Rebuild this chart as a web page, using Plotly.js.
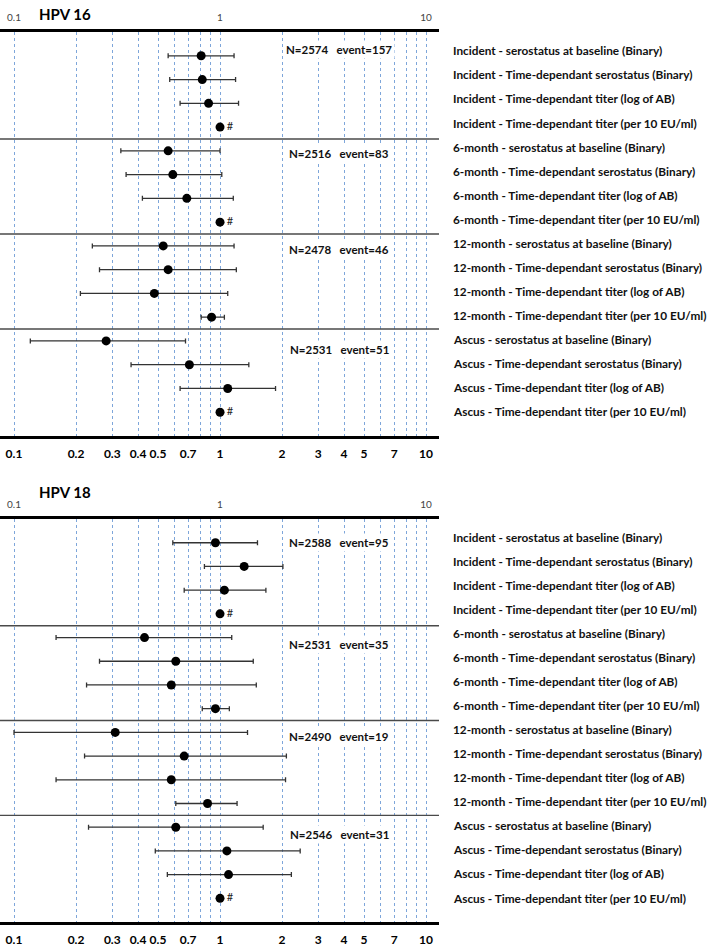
<!DOCTYPE html>
<html><head><meta charset="utf-8">
<script src="https://cdn.plot.ly/plotly-3.0.1.min.js"></script>
<style>html,body{margin:0;padding:0;background:#fff}#chart{width:709px;height:948px}</style>
</head><body><div id="chart"></div>
<script>
// ---------- data ----------
const rowLabels = [
  "Incident - serostatus at baseline (Binary)",
  "Incident - Time-dependant serostatus (Binary)",
  "Incident - Time-dependant titer (log of AB)",
  "Incident - Time-dependant titer (per 10 EU/ml)",
  "6-month - serostatus at baseline (Binary)",
  "6-month - Time-dependant serostatus (Binary)",
  "6-month - Time-dependant titer (log of AB)",
  "6-month - Time-dependant titer (per 10 EU/ml)",
  "12-month - serostatus at baseline (Binary)",
  "12-month - Time-dependant serostatus (Binary)",
  "12-month - Time-dependant titer (log of AB)",
  "12-month - Time-dependant titer (per 10 EU/ml)",
  "Ascus - serostatus at baseline (Binary)",
  "Ascus - Time-dependant serostatus (Binary)",
  "Ascus - Time-dependant titer (log of AB)",
  "Ascus - Time-dependant titer (per 10 EU/ml)"
];
const hpv16Est = [0.81, 0.82, 0.88, 1, 0.56, 0.59, 0.69, 1, 0.53, 0.56, 0.48, 0.91, 0.28, 0.71, 1.09, 1];
const hpv16Lo  = [0.56, 0.57, 0.64, null, 0.33, 0.35, 0.42, null, 0.24, 0.26, 0.21, 0.81, 0.12, 0.37, 0.64, null];
const hpv16Hi  = [1.17, 1.19, 1.23, null, 1.00, 1.02, 1.16, null, 1.17, 1.20, 1.09, 1.05, 0.68, 1.38, 1.86, null];
const hpv16Counts = ["N=2574   event=157", "N=2516   event=83", "N=2478   event=46", "N=2531   event=51"];

const hpv18Est = [0.95, 1.31, 1.05, 1, 0.43, 0.61, 0.58, 0.95, 0.31, 0.67, 0.58, 0.87, 0.61, 1.08, 1.10, 1];
const hpv18Lo  = [0.59, 0.84, 0.67, null, 0.16, 0.26, 0.225, 0.82, 0.10, 0.22, 0.16, 0.61, 0.23, 0.485, 0.555, null];
const hpv18Hi  = [1.52, 2.02, 1.67, null, 1.14, 1.45, 1.50, 1.11, 1.36, 2.10, 2.08, 1.21, 1.62, 2.45, 2.22, null];
const hpv18Counts = ["N=2588   event=95", "N=2531   event=35", "N=2490   event=19", "N=2546   event=31"];

const panelTitles = ["HPV 16", "HPV 18"];
const gridVals = [0.1,0.2,0.3,0.4,0.5,0.6,0.7,0.8,0.9,1,2,3,4,5,6,7,8,9,10];
const gridText = ["0.1","0.2","0.3","0.4","0.5","","0.7","","","1","2","3","4","5","","7","","","10"];
const topVals = [0.1, 1, 10];
const topText = ["0.1", "1", "10"];

// ---------- build ----------
const FONT = "Lato, 'Open Sans', sans-serif";
const W = 709, H = 948, PLOT_W = 439;
const xRange = [-1.068, 1.063];
const rows = rowLabels.map((_, i) => i);
const groupSize = 4;
const nb = s => s.replace(/ /g, "\u00a0");

const panels = [
  {est: hpv16Est, lo: hpv16Lo, hi: hpv16Hi, counts: hpv16Counts, title: panelTitles[0],
   dom: [0.5401, 0.9662], countY: [-0.04, 4.28, 8.27, 12.42], titleY: 1 - 14/H,
   ax: {x: "x", x2: "x2", y: "y", y2: "y2"}},
  {est: hpv18Est, lo: hpv18Lo, hi: hpv18Hi, counts: hpv18Counts, title: panelTitles[1],
   dom: [0.0274, 0.4525], countY: [0.18, 4.43, 8.29, 12.36], titleY: 1 - 492/H,
   ax: {x: "x3", x2: "x4", y: "y3", y2: "y4"}}
];

const data = [];
const layout = {
  width: W, height: H,
  margin: {l: 0, r: W - PLOT_W, t: 0, b: 0},
  paper_bgcolor: "#fff", plot_bgcolor: "#fff",
  showlegend: false,
  font: {family: FONT, color: "#000"},
  annotations: [], shapes: []
};
const axName = id => id.replace(/^x/, "xaxis").replace(/^y/, "yaxis");

panels.forEach(p => {
  const isRef = p.lo.map(v => v === null);
  data.push({
    type: "scatter", mode: "markers+text",
    x: p.est, y: rows, xaxis: p.ax.x, yaxis: p.ax.y,
    marker: {size: 9, color: "#000"},
    text: isRef.map(r => r ? "#" : ""),
    textposition: "middle right",
    textfont: {family: FONT, size: 11, color: "#222"},
    error_x: {
      type: "data", symmetric: false,
      array: p.hi.map((h, i) => h === null ? NaN : h - p.est[i]),
      arrayminus: p.lo.map((l, i) => l === null ? NaN : p.est[i] - l),
      color: "#333", thickness: 1.3, width: 2.5
    },
    hoverinfo: "x+y", cliponaxis: false
  });
  data.push({type: "scatter", mode: "markers", x: [1], y: [0], xaxis: p.ax.x2, yaxis: p.ax.y,
             marker: {opacity: 0}, hoverinfo: "skip"});
  data.push({type: "scatter", mode: "markers", x: [1], y: [0], xaxis: p.ax.x, yaxis: p.ax.y2,
             marker: {opacity: 0}, hoverinfo: "skip"});

  const xa = axName(p.ax.x), xa2 = axName(p.ax.x2), ya = axName(p.ax.y), ya2 = axName(p.ax.y2);
  layout[xa] = {
    type: "log", range: xRange, domain: [0, 1], anchor: p.ax.y,
    tickmode: "array", tickvals: gridVals, ticktext: gridText,
    showgrid: true, gridcolor: "#7ea6da", griddash: "dot", gridwidth: 1,
    showline: true, linewidth: 3, linecolor: "#000",
    ticks: "", zeroline: false, fixedrange: true, ticklabelstandoff: 5,
    tickfont: {family: FONT, size: 12, weight: 700, color: "#000"}
  };
  layout[xa2] = {
    type: "log", range: xRange, overlaying: p.ax.x, side: "top", anchor: p.ax.y,
    tickmode: "array", tickvals: topVals, ticktext: topText,
    showgrid: false, showline: true, linewidth: 3, linecolor: "#000",
    ticks: "", zeroline: false, fixedrange: true, ticklabelstandoff: 4,
    tickfont: {family: FONT, size: 10, color: "#444"}
  };
  layout[ya] = {
    domain: p.dom, range: [16, -1], anchor: p.ax.x,
    showgrid: false, zeroline: false, showticklabels: false, showline: false, ticks: "", fixedrange: true
  };
  layout[ya2] = {
    overlaying: p.ax.y, range: [16, -0.78], anchor: p.ax.x,
    showgrid: false, zeroline: false, showticklabels: false, showline: false, ticks: "", fixedrange: true
  };

  for (let g = groupSize; g < rows.length; g += groupSize) {
    layout.shapes.push({type: "line", xref: p.ax.x + " domain", x0: 0, x1: 1,
      yref: p.ax.y, y0: g - 0.5, y1: g - 0.5, line: {color: "#4a4a4a", width: 1.4}});
  }
  rowLabels.forEach((lab, i) => {
    layout.annotations.push({xref: p.ax.x + " domain", x: 1, xanchor: "left", xshift: 12,
      yref: p.ax.y2, y: i, yanchor: "middle", showarrow: false, align: "left",
      text: lab, font: {family: FONT, size: 11.8, weight: 700, color: "#111"}});
  });
  p.counts.forEach((t, g) => {
    layout.annotations.push({xref: p.ax.x, x: Math.log10(3.8), xanchor: "center",
      yref: p.ax.y2, y: p.countY[g], yanchor: "middle", showarrow: false,
      bgcolor: "#fff", borderpad: 2,
      text: nb(t), font: {family: FONT, size: 11.5, weight: 700, color: "#111"}});
  });
  layout.annotations.push({xref: "paper", x: 37/PLOT_W, xanchor: "left",
    yref: "paper", y: p.titleY, yanchor: "middle", showarrow: false,
    text: p.title, font: {family: FONT, size: 15, weight: 700, color: "#000"}});
});

Plotly.newPlot("chart", data, layout, {displayModeBar: false, staticPlot: true});
</script>
</body></html>
